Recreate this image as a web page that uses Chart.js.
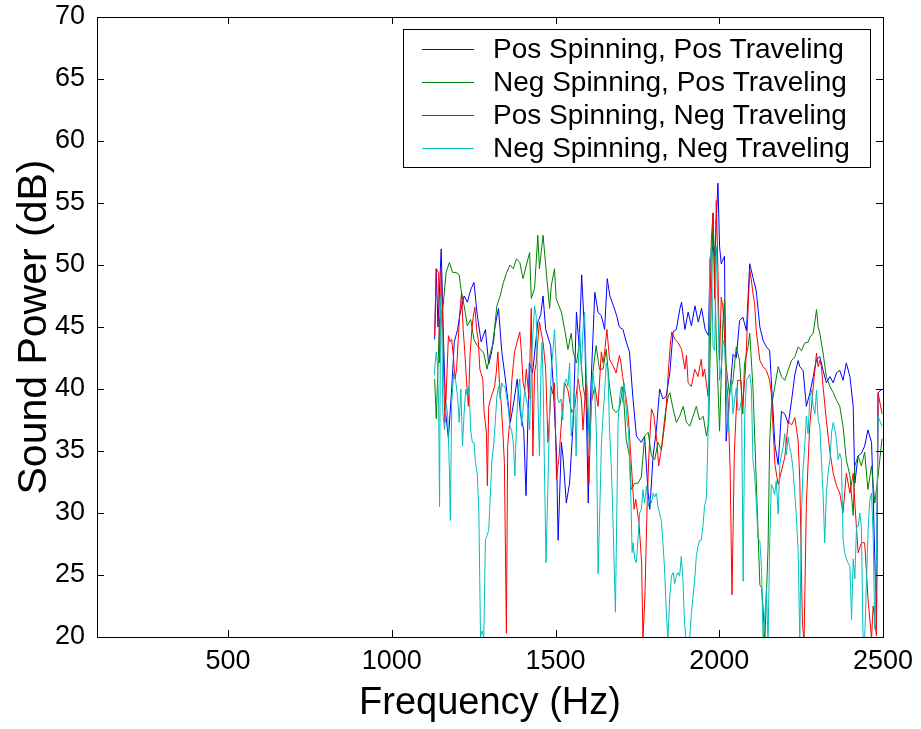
<!DOCTYPE html>
<html>
<head>
<meta charset="utf-8">
<title>Sound Power vs Frequency</title>
<script src="https://cdn.jsdelivr.net/npm/chart.js@4.4.1/dist/chart.umd.min.js"></script>
<style>
  html, body { margin: 0; padding: 0; background: #fff; }
  #box { width: 921px; height: 729px; position: relative; }
</style>
</head>
<body>
<div id="box"><canvas id="powerChart"></canvas></div>
<script>
// series labels + colours (matlab default-ish)
var seriesLabels = ["Pos Spinning, Pos Traveling", "Neg Spinning, Pos Traveling", "Pos Spinning, Neg Traveling", "Neg Spinning, Neg Traveling"];
var seriesColors = ["#0000FF", "#008000", "#FF0000", "#00BFBF"];

var xTicks = [500, 1000, 1500, 2000, 2500];
var yTicks = [20, 25, 30, 35, 40, 45, 50, 55, 60, 65, 70];

// Pos Spinning, Pos Traveling (blue)
var posPosHz = [1131,1136,1141,1151,1158,1165,1173,1183,1191,1201,1208,1221,1231,1241,1251,1261,1273,1286,1296,1305,1315,1326,1336,1347,1355,1362,1373,1383,1393,1403,1410,1420,1430,1446,1455,1462,1470,1485,1492,1503,1508,1518,1523,1533,1543,1554,1564,1572,1580,1590,1600,1607,1620,1630,1640,1650,1658,1666,1677,1687,1695,1706,1716,1726,1736,1747,1762,1772,1782,1788,1798,1808,1818,1828,1838,1849,1859,1869,1880,1885,1895,1905,1915,1926,1936,1946,1957,1967,1972,1982,1986,1996,2001,2006,2016,2021,2031,2042,2052,2062,2072,2083,2093,2103,2113,2124,2134,2144,2154,2159,2170,2180,2190,2200,2211,2221,2231,2241,2246,2256,2266,2277,2287,2297,2307,2317,2327,2338,2348,2358,2368,2378,2388,2399,2409,2414,2424,2434,2444,2454,2465,2470,2475,2480,2485,2497];
var posPosDb = [44.0,49.7,45.0,51.3,44.0,38.0,36.0,40.0,43.8,44.8,46.0,47.5,47.0,48.0,48.6,46.0,43.8,44.8,42.0,43.0,45.0,46.5,43.0,40.8,39.0,37.3,39.0,40.8,38.0,36.7,31.4,42.1,41.3,45.4,46.0,47.5,44.8,43.5,40.8,34.9,27.8,35.7,34.5,30.8,32.4,37.3,46.2,43.5,49.2,43.8,30.8,39.4,47.8,46.2,45.9,44.8,48.9,47.5,46.7,45.9,45.0,44.8,43.8,43.0,39.4,36.2,35.7,36.2,31.9,30.3,34.6,36.7,40.0,39.2,39.4,41.3,44.6,44.8,46.5,47.0,44.8,46.2,45.1,46.7,45.4,46.5,44.8,44.3,50.5,51.6,50.7,56.6,51.5,50.1,50.7,35.8,39.3,42.8,42.5,45.5,45.8,44.7,50.1,49.0,47.9,45.0,43.9,43.4,43.1,40.7,35.5,33.9,38.2,38.0,37.2,39.1,41.2,42.3,41.8,41.5,38.6,39.7,41.0,42.4,42.6,41.5,40.5,41.0,40.5,41.3,41.5,40.7,42.1,41.0,38.6,32.4,34.6,34.8,35.4,36.7,35.7,31.6,26.3,21.2,39.7,40.0];

// Neg Spinning, Pos Traveling (green)
var negPosHz = [1131,1136,1146,1156,1166,1176,1186,1196,1206,1211,1221,1231,1241,1251,1261,1271,1281,1291,1301,1311,1316,1321,1331,1341,1351,1361,1371,1381,1391,1401,1411,1421,1426,1436,1446,1451,1462,1472,1482,1487,1497,1502,1518,1528,1538,1548,1554,1564,1574,1584,1594,1604,1614,1624,1634,1645,1655,1665,1675,1685,1695,1706,1716,1726,1731,1742,1752,1762,1772,1783,1793,1803,1813,1823,1834,1844,1849,1859,1869,1879,1890,1900,1910,1920,1930,1940,1951,1961,1968,1981,1991,2001,2011,2016,2021,2031,2042,2052,2062,2072,2077,2088,2093,2103,2113,2124,2129,2134,2139,2149,2154,2159,2169,2180,2190,2200,2210,2221,2231,2241,2251,2261,2272,2277,2287,2297,2302,2307,2317,2327,2338,2348,2358,2368,2378,2388,2399,2409,2414,2424,2434,2444,2454,2465,2475,2485,2497];
var negPosDb = [40.8,37.6,45.6,46.5,49.4,50.2,49.4,49.4,49.2,48.1,46.7,45.1,45.6,44.0,43.5,43.2,42.9,41.6,42.9,43.8,45.4,46.7,47.5,48.6,49.4,50.0,49.7,50.5,50.2,48.9,50.0,51.0,47.3,48.1,52.4,49.7,52.4,49.4,46.5,48.3,49.7,47.3,46.2,44.8,43.2,44.5,43.0,42.1,43.8,40.2,38.9,36.2,41.3,43.5,41.6,41.6,43.2,40.2,38.4,38.1,38.4,40.2,35.9,34.6,31.9,32.4,32.4,32.9,36.2,36.5,34.6,34.3,35.7,35.1,37.8,39.4,39.7,38.4,37.3,37.8,38.6,37.3,37.0,37.8,38.6,37.5,37.8,36.2,37.3,54.2,43.9,36.6,45.3,47.2,41.9,39.6,40.7,43.4,42.3,38.0,42.0,43.4,44.5,40.1,32.6,24.2,24.0,22.3,19.5,27.2,35.8,38.5,40.1,41.8,41.0,40.7,41.5,42.3,42.6,43.4,43.1,43.7,43.8,44.2,44.5,46.4,45.0,44.5,42.9,41.0,40.2,39.7,39.1,38.6,37.0,34.3,33.0,29.8,33.8,34.6,33.8,34.9,31.9,33.8,30.8,33.0,36.0];

// Pos Spinning, Neg Traveling (red)
var posNegHz = [1131,1136,1143,1146,1151,1156,1162,1166,1173,1178,1183,1188,1193,1198,1203,1208,1213,1218,1223,1228,1234,1239,1244,1249,1254,1259,1264,1269,1278,1282,1289,1292,1296,1304,1314,1319,1324,1329,1334,1339,1344,1350,1354,1360,1367,1375,1383,1391,1396,1401,1406,1411,1419,1426,1431,1436,1441,1446,1451,1456,1462,1470,1477,1482,1487,1492,1497,1503,1511,1518,1523,1528,1538,1549,1559,1569,1579,1584,1594,1602,1609,1620,1630,1640,1645,1650,1657,1665,1675,1685,1695,1700,1705,1710,1720,1725,1730,1740,1745,1755,1763,1767,1773,1780,1785,1793,1800,1805,1810,1815,1820,1825,1835,1840,1845,1850,1855,1860,1865,1875,1885,1895,1900,1905,1915,1925,1935,1945,1950,1955,1966,1976,1981,1986,1991,1996,2001,2006,2011,2016,2021,2026,2033,2039,2046,2056,2066,2071,2080,2086,2093,2098,2103,2108,2113,2124,2134,2144,2154,2159,2170,2180,2190,2200,2211,2221,2231,2241,2246,2254,2259,2266,2276,2287,2297,2302,2307,2312,2317,2327,2337,2348,2358,2368,2378,2388,2399,2409,2414,2424,2434,2444,2455,2465,2470,2480,2485,2497];
var posNegDb = [44.3,49.7,49.4,42.1,49.7,44.8,37.3,39.4,44.3,43.8,44.0,42.7,40.8,41.6,44.0,46.2,47.8,44.8,43.0,40.8,38.6,42.7,44.6,45.9,46.6,44.8,44.0,41.6,40.8,38.1,36.5,32.2,38.6,39.4,40.2,41.3,43.0,40.5,38.9,36.7,34.0,20.3,35.4,37.3,40.8,43.0,43.8,44.6,42.9,40.5,39.9,41.6,39.2,46.5,34.6,41.3,42.1,43.9,45.4,44.6,43.8,41.6,35.7,37.9,40.2,39.6,40.5,32.7,34.6,37.3,38.9,40.5,39.9,38.1,38.6,40.8,39.2,36.7,41.1,32.4,38.9,40.2,38.6,43.0,42.1,43.0,44.8,42.4,41.9,41.3,42.7,42.1,41.0,40.2,38.4,36.7,34.6,30.3,31.1,29.2,26.0,19.7,23.3,30.8,34.6,38.4,37.9,36.8,35.7,33.8,34.6,35.4,37.5,39.4,41.6,43.4,44.6,44.3,44.0,43.7,43.2,41.6,42.7,40.5,40.2,41.6,41.0,42.4,41.0,41.6,39.4,52.1,54.2,47.3,55.2,49.5,42.3,47.4,46.6,44.5,40.7,39.6,33.7,23.4,34.8,40.7,40.7,38.5,41.5,45.2,49.6,48.8,47.7,46.9,44.7,42.3,41.8,41.5,40.7,39.6,33.9,32.3,33.4,34.5,37.4,37.1,37.7,35.8,32.6,21.0,19.6,30.8,36.9,40.2,42.9,41.8,42.3,41.8,40.2,37.5,35.1,33.2,32.2,31.6,30.0,33.2,31.6,33.2,30.8,26.8,27.6,27.6,22.8,19.9,22.5,20.1,39.7,38.0];

// Neg Spinning, Neg Traveling (cyan)
var negNegHz = [1130,1134,1136,1139,1143,1146,1149,1153,1156,1161,1166,1171,1176,1179,1183,1189,1196,1201,1206,1211,1216,1221,1226,1231,1236,1241,1246,1251,1256,1261,1266,1271,1276,1281,1286,1296,1306,1311,1316,1321,1326,1331,1336,1341,1346,1356,1361,1366,1371,1376,1381,1386,1391,1396,1406,1416,1421,1426,1436,1441,1446,1451,1456,1459,1463,1466,1471,1476,1482,1487,1492,1497,1502,1507,1512,1517,1522,1527,1533,1538,1543,1548,1553,1558,1563,1568,1574,1579,1584,1589,1594,1599,1604,1609,1614,1619,1625,1630,1635,1640,1645,1650,1655,1660,1665,1670,1675,1683,1691,1696,1701,1706,1709,1713,1719,1723,1730,1734,1737,1742,1747,1752,1757,1762,1767,1772,1778,1783,1788,1793,1798,1803,1808,1813,1823,1828,1833,1838,1843,1849,1854,1859,1864,1869,1874,1879,1884,1889,1894,1899,1909,1915,1925,1930,1935,1940,1945,1950,1955,1961,1966,1971,1976,1981,1986,1991,1996,2001,2006,2012,2017,2022,2027,2032,2037,2042,2047,2052,2057,2062,2068,2073,2078,2083,2088,2093,2098,2103,2108,2113,2118,2124,2129,2134,2139,2144,2149,2154,2159,2164,2169,2174,2180,2185,2190,2195,2200,2205,2210,2215,2220,2225,2230,2235,2241,2246,2251,2256,2261,2266,2271,2277,2282,2287,2292,2297,2302,2307,2312,2317,2322,2327,2332,2338,2343,2348,2353,2358,2363,2368,2373,2378,2383,2388,2393,2399,2404,2409,2414,2419,2424,2429,2434,2439,2444,2449,2455,2460,2465,2470,2475,2480,2485,2497];
var negNegDb = [41.1,42.6,43.0,42.2,38.9,30.5,47.5,44.8,38.1,36.7,38.9,37.8,33.5,29.4,38.9,41.3,40.5,39.4,37.3,40.0,35.4,38.1,40.0,39.4,40.2,36.7,35.7,35.7,34.0,33.2,30.0,20.0,20.5,20.0,27.8,28.6,34.3,35.4,37.3,39.4,40.2,39.2,40.5,40.2,40.2,38.4,37.0,36.7,35.7,33.0,37.3,39.9,40.8,37.0,39.9,38.4,36.7,42.1,46.7,45.9,39.4,34.6,42.1,43.8,39.4,34.0,26.0,31.4,37.9,41.6,43.0,44.8,42.1,39.2,38.9,39.2,37.5,40.5,40.8,40.2,42.1,36.2,37.5,40.0,34.6,40.8,44.6,41.6,44.8,46.2,41.0,39.4,34.6,38.4,41.3,40.2,36.5,25.1,30.0,35.4,37.8,39.7,42.1,41.6,36.7,34.0,30.0,22.0,37.3,39.4,40.2,38.9,40.5,39.4,37.3,36.7,31.3,26.8,27.6,26.3,26.0,27.9,30.0,30.3,31.9,30.8,32.2,30.5,31.3,30.8,31.6,31.3,31.6,30.5,29.4,27.6,25.5,22.2,19.7,23.3,24.9,25.2,24.3,24.9,25.2,24.9,26.5,24.6,21.1,19.7,19.7,21.9,24.6,26.5,27.3,27.8,27.8,28.9,30.5,31.3,36.7,50.2,51.5,43.4,43.1,51.5,46.6,40.7,41.8,43.9,43.4,39.3,36.6,39.6,40.7,38.0,39.1,40.1,38.3,38.3,39.1,24.5,38.0,40.7,40.9,41.2,40.1,34.2,33.1,31.0,28.0,27.7,25.6,19.6,21.7,23.9,19.6,27.5,32.3,32.0,31.5,32.6,29.9,33.9,34.7,35.3,36.4,34.7,36.1,35.3,34.7,33.6,31.8,29.9,26.9,19.6,29.9,33.6,35.3,37.8,36.4,39.4,39.9,38.6,38.0,39.9,37.5,37.0,34.3,31.6,27.6,31.6,33.2,34.3,36.5,37.3,36.7,35.9,34.3,34.8,34.3,27.9,26.8,26.3,26.0,25.7,21.4,26.3,24.7,28.9,28.9,30.0,28.9,20.1,19.8,24.1,28.9,31.1,31.6,28.1,20.6,26.3,37.8,37.0];

var fontFamily = "'Liberation Sans', Arial, Helvetica, sans-serif";

function toPoints(hz, db) {
  return hz.map(function (f, i) { return { x: f, y: db[i] }; });
}

var allHz = [posPosHz, negPosHz, posNegHz, negNegHz];
var allDb = [posPosDb, negPosDb, posNegDb, negNegDb];

var datasets = seriesLabels.map(function (label, i) {
  return {
    label: label,
    data: toPoints(allHz[i], allDb[i]),
    borderColor: seriesColors[i],
    backgroundColor: seriesColors[i],
    borderWidth: 1,
    pointRadius: 0,
    showLine: true,
    fill: false,
    tension: 0,
    order: 3 - i   // last series on top, like matlab
  };
});

// box round the axes, inward ticks on all 4 sides, legend inside top right
var matlabAxes = {
  id: 'matlabAxes',
  afterDatasetsDraw: function (chart) {
    var ctx = chart.ctx;
    var a = chart.chartArea;
    var xs = chart.scales.x, ys = chart.scales.y;
    var tl = 7;
    ctx.save();
    ctx.strokeStyle = '#000';
    ctx.lineWidth = 1;
    ctx.beginPath();
    xTicks.forEach(function (v) {
      var px = Math.round(xs.getPixelForValue(v)) + 0.5;
      ctx.moveTo(px, a.bottom); ctx.lineTo(px, a.bottom - tl);
      ctx.moveTo(px, a.top); ctx.lineTo(px, a.top + tl);
    });
    yTicks.forEach(function (v) {
      var py = Math.round(ys.getPixelForValue(v)) + 0.5;
      ctx.moveTo(a.left, py); ctx.lineTo(a.left + tl, py);
      ctx.moveTo(a.right, py); ctx.lineTo(a.right - tl, py);
    });
    ctx.stroke();
    ctx.strokeRect(Math.round(a.left) + 0.5, Math.round(a.top) + 0.5,
      Math.round(a.right - a.left), Math.round(a.bottom - a.top));

    // legend
    var lx = 403.5, ly = 29.5, lw = 467, lh = 138;
    ctx.fillStyle = '#fff';
    ctx.fillRect(lx, ly, lw, lh);
    ctx.strokeRect(lx, ly, lw, lh);
    var rows = [49, 82, 115, 148];
    ctx.font = '28px ' + fontFamily;
    ctx.textBaseline = 'middle';
    ctx.textAlign = 'left';
    seriesLabels.forEach(function (label, i) {
      ctx.strokeStyle = seriesColors[i];
      ctx.beginPath();
      ctx.moveTo(422, rows[i] + 0.5);
      ctx.lineTo(474, rows[i] + 0.5);
      ctx.stroke();
      ctx.fillStyle = '#000';
      ctx.fillText(label, 493, rows[i] + 1);
    });
    ctx.restore();
  }
};

Chart.defaults.color = '#000';

var ctx = document.getElementById('powerChart').getContext('2d');

var myChart = new Chart(ctx, {
  type: 'scatter',
  data: { datasets: datasets },
  options: {
    responsive: true,
    maintainAspectRatio: false,
    animation: false,
    layout: { padding: { left: 0, top: 17, right: 38, bottom: 0 } },
    plugins: {
      legend: { display: false },
      tooltip: { enabled: false }
    },
    scales: {
      x: {
        type: 'linear',
        min: 100,
        max: 2500,
        afterBuildTicks: function (scale) {
          scale.ticks = xTicks.map(function (v) { return { value: v }; });
        },
        afterFit: function (scale) {
          scale.height = 92;
          scale.paddingLeft = 0;
          scale.paddingRight = 0;
        },
        grid: { display: false, drawTicks: false },
        border: { display: false },
        ticks: {
          autoSkip: false,
          maxRotation: 0,
          padding: 8,
          font: { family: fontFamily, size: 27 },
          callback: function (v) { return v; }
        },
        title: {
          display: true,
          text: 'Frequency (Hz)',
          font: { family: fontFamily, size: 38 },
          padding: { top: 0, bottom: 3 }
        }
      },
      y: {
        min: 20,
        max: 70,
        afterBuildTicks: function (scale) {
          scale.ticks = yTicks.map(function (v) { return { value: v }; });
        },
        afterFit: function (scale) {
          scale.width = 97;
          scale.paddingTop = 0;
          scale.paddingBottom = 0;
        },
        grid: { display: false, drawTicks: false },
        border: { display: false },
        ticks: {
          padding: 12,
          font: { family: fontFamily, size: 27 }
        },
        title: {
          display: true,
          text: 'Sound Power (dB)',
          font: { family: fontFamily, size: 41 },
          padding: { top: 10, bottom: 0 }
        }
      }
    }
  },
  plugins: [matlabAxes]
});
</script>
</body>
</html>
